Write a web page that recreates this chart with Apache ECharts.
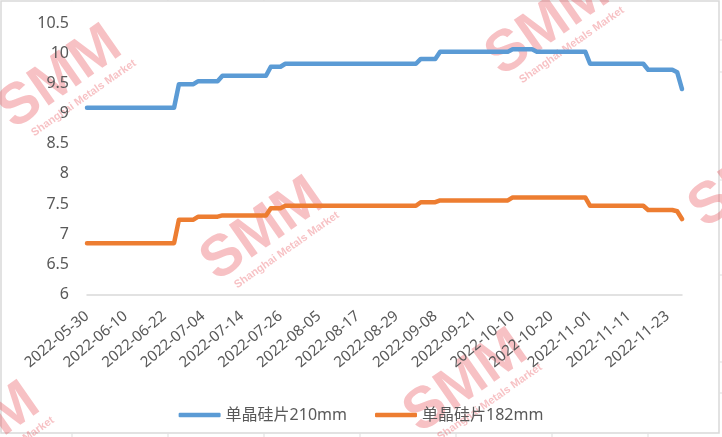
<!DOCTYPE html>
<html>
<head>
<meta charset="utf-8">
<script src="https://cdn.jsdelivr.net/npm/echarts@6/dist/echarts.min.js"></script>
<style>html,body{margin:0;padding:0;background:#fff;}#c{width:722px;height:437px;}</style>
</head>
<body>
<div id="c"></div>
<script>
var categories = [
'2022-05-30','2022-05-31','2022-06-01','2022-06-02','2022-06-06','2022-06-07','2022-06-08','2022-06-09',
'2022-06-10','2022-06-13','2022-06-14','2022-06-15','2022-06-16','2022-06-17','2022-06-20','2022-06-21',
'2022-06-22','2022-06-23','2022-06-24','2022-06-27','2022-06-28','2022-06-29','2022-06-30','2022-07-01',
'2022-07-04','2022-07-05','2022-07-06','2022-07-07','2022-07-08','2022-07-11','2022-07-12','2022-07-13',
'2022-07-14','2022-07-15','2022-07-18','2022-07-19','2022-07-20','2022-07-21','2022-07-22','2022-07-25',
'2022-07-26','2022-07-27','2022-07-28','2022-07-29','2022-08-01','2022-08-02','2022-08-03','2022-08-04',
'2022-08-05','2022-08-08','2022-08-09','2022-08-10','2022-08-11','2022-08-12','2022-08-15','2022-08-16',
'2022-08-17','2022-08-18','2022-08-19','2022-08-22','2022-08-23','2022-08-24','2022-08-25','2022-08-26',
'2022-08-29','2022-08-30','2022-08-31','2022-09-01','2022-09-02','2022-09-05','2022-09-06','2022-09-07',
'2022-09-08','2022-09-09','2022-09-13','2022-09-14','2022-09-15','2022-09-16','2022-09-19','2022-09-20',
'2022-09-21','2022-09-22','2022-09-23','2022-09-26','2022-09-27','2022-09-28','2022-09-29','2022-09-30',
'2022-10-10','2022-10-11','2022-10-12','2022-10-13','2022-10-14','2022-10-17','2022-10-18','2022-10-19',
'2022-10-20','2022-10-21','2022-10-24','2022-10-25','2022-10-26','2022-10-27','2022-10-28','2022-10-31',
'2022-11-01','2022-11-02','2022-11-03','2022-11-04','2022-11-07','2022-11-08','2022-11-09','2022-11-10',
'2022-11-11','2022-11-14','2022-11-15','2022-11-16','2022-11-17','2022-11-18','2022-11-21','2022-11-22',
'2022-11-23','2022-11-24','2022-11-25','2022-11-28'
];

var wafer210 = [
9.10,9.10,9.10,9.10,9.10,9.10,9.10,9.10,9.10,9.10,9.10,9.10,9.10,9.10,9.10,9.10,9.10,9.10,9.10,
9.49,9.49,9.49,9.49,
9.54,9.54,9.54,9.54,9.54,
9.63,9.63,9.63,9.63,9.63,9.63,9.63,9.63,9.63,9.63,
9.78,9.78,9.78,
9.83,9.83,9.83,9.83,9.83,9.83,9.83,9.83,9.83,9.83,9.83,9.83,9.83,9.83,
9.83,9.83,9.83,9.83,9.83,9.83,9.83,9.83,9.83,9.83,9.83,9.83,9.83,9.83,
9.91,9.91,9.91,9.91,
10.03,10.03,10.03,10.03,10.03,10.03,10.03,10.03,10.03,10.03,10.03,10.03,10.03,10.03,10.03,
10.07,10.07,10.07,10.07,10.07,
10.03,10.03,10.03,10.03,10.03,10.03,10.03,10.03,10.03,10.03,10.03,
9.83,9.83,9.83,9.83,9.83,9.83,9.83,9.83,9.83,9.83,9.83,9.83,
9.73,9.73,9.73,9.73,9.73,9.73,
9.69,
9.41
];

var wafer182 = [
6.85,6.85,6.85,6.85,6.85,6.85,6.85,6.85,6.85,6.85,6.85,6.85,6.85,6.85,6.85,6.85,6.85,6.85,6.85,
7.24,7.24,7.24,7.24,
7.29,7.29,7.29,7.29,7.29,
7.31,7.31,7.31,7.31,7.31,7.31,7.31,7.31,7.31,7.31,
7.43,7.43,7.43,
7.47,7.47,7.47,7.47,7.47,7.47,7.47,7.47,7.47,7.47,7.47,7.47,7.47,7.47,
7.47,7.47,7.47,7.47,7.47,7.47,7.47,7.47,7.47,7.47,7.47,7.47,7.47,7.47,
7.53,7.53,7.53,7.53,
7.56,7.56,7.56,7.56,7.56,7.56,7.56,7.56,7.56,7.56,7.56,7.56,7.56,7.56,7.56,
7.61,7.61,7.61,7.61,7.61,7.61,7.61,7.61,7.61,7.61,7.61,7.61,7.61,7.61,7.61,7.61,
7.47,7.47,7.47,7.47,7.47,7.47,7.47,7.47,7.47,7.47,7.47,7.47,
7.40,7.40,7.40,7.40,7.40,7.40,
7.38,
7.25
];

var seriesNames = ['单晶硅片210mm', '单晶硅片182mm'];
var seriesColors = ['#5B9BD5', '#ED7D31'];

var FONT = '"Noto Sans", "Noto Sans CJK SC", sans-serif';
var WM_COLOR = 'rgba(228,50,60,0.30)';

function watermark(cx, cy) {
  return {
    type: 'group',
    x: cx, y: cy,
    rotation: 35 * Math.PI / 180,
    silent: true,
    z: 100,
    children: [
      { type: 'text', x: 0, y: 0, style: { text: 'SMM', font: 'bold 58px "Liberation Sans"', fill: WM_COLOR, align: 'center', verticalAlign: 'middle' } },
      { type: 'text', x: 8, y: 30, style: { text: 'Shanghai Metals Market', font: 'bold 11px "Liberation Sans"', fill: WM_COLOR, align: 'center', verticalAlign: 'middle' } }
    ]
  };
}

var graphics = [
  { type: 'rect', shape: { x: 1, y: 1, width: 718, height: 432 }, style: { fill: 'none', stroke: '#D9D9D9', lineWidth: 1.5 }, silent: true, z: 0 }
];
[72,168,264,360,456,552,648].forEach(function (x) {
  graphics.push({ type: 'line', shape: { x1: x, y1: 433.5, x2: x, y2: 437 }, style: { stroke: '#DDDDDD', lineWidth: 1 }, silent: true });
  graphics.push({ type: 'line', shape: { x1: x, y1: 0, x2: x, y2: 1 }, style: { stroke: '#DDDDDD', lineWidth: 1 }, silent: true });
});
[40,72,180,275,362,393].forEach(function (y) {
  graphics.push({ type: 'line', shape: { x1: 719.5, y1: y, x2: 722, y2: y }, style: { stroke: '#DDDDDD', lineWidth: 1 }, silent: true });
});
[[60,78],[263,230],[466,382],[548,25],[751,177],[-22,435]].forEach(function (p) {
  graphics.push(watermark(p[0], p[1]));
});

var chart = echarts.init(document.getElementById('c'), null, { renderer: 'canvas' });
chart.setOption({
  animation: false,
  backgroundColor: '#fff',
  grid: { left: 87, right: 40, top: 23.4, bottom: 142.7, containLabel: false, outerBoundsMode: 'none' },
  legend: {
    top: 402, left: 'center',
    icon: 'roundRect',
    itemWidth: 42, itemHeight: 4.5, itemGap: 28,
    textStyle: { fontSize: 16, color: '#595959', fontFamily: FONT },
    data: seriesNames
  },
  xAxis: {
    type: 'category',
    boundaryGap: false,
    data: categories,
    axisLine: { lineStyle: { color: '#D9D9D9', width: 1.5 } },
    axisTick: { show: false },
    splitLine: { show: false },
    axisLabel: { interval: 7, rotate: 40, margin: 20, fontSize: 15, color: '#595959', fontFamily: FONT, hideOverlap: false }
  },
  yAxis: {
    type: 'value',
    min: 6, max: 10.5, interval: 0.5,
    axisLine: { show: false },
    axisTick: { show: false },
    splitLine: { show: false },
    axisLabel: { fontSize: 16, color: '#595959', fontFamily: FONT, margin: 18 }
  },
  series: [
    { name: seriesNames[0], type: 'line', data: wafer210, symbol: 'none', color: seriesColors[0],
      lineStyle: { width: 4.5, color: seriesColors[0], cap: 'round', join: 'round' } },
    { name: seriesNames[1], type: 'line', data: wafer182, symbol: 'none', color: seriesColors[1],
      lineStyle: { width: 4.5, color: seriesColors[1], cap: 'round', join: 'round' } }
  ],
  graphic: graphics
});
</script>
</body>
</html>
